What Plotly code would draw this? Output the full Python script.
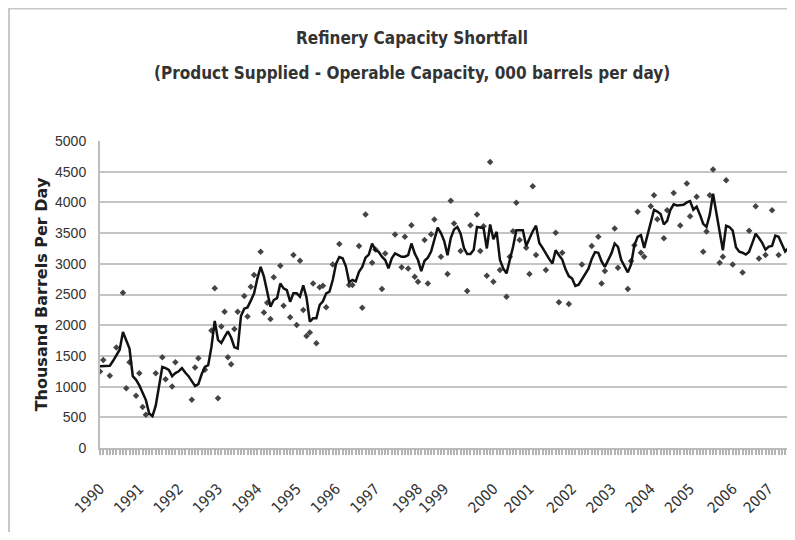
import plotly.graph_objects as go

# monthly index, 0 = Jan 1990
line_vals = [
    1330, 1330, 1330, 1340, 1420, 1500, 1600, 1890, 1740, 1620,
    1170, 1110, 1020, 910, 780, 560, 520, 690, 1000, 1320,
    1300, 1270, 1170, 1220, 1250, 1300, 1230, 1170, 1090, 1010,
    1040, 1200, 1320, 1350, 1650, 2070, 1760, 1710, 1810, 1900,
    1800, 1640, 1620, 2150, 2270, 2290, 2400, 2520, 2760, 2950,
    2790, 2520, 2300, 2410, 2440, 2680, 2600, 2570, 2383, 2520,
    2520, 2465, 2650, 2450, 2060, 2113, 2113, 2329, 2390, 2519,
    2546, 2736, 3000, 3110, 3090, 2960, 2700, 2736, 2715, 2870,
    2950, 3100, 3150, 3330, 3223, 3196, 3115, 3061, 2925, 3088,
    3169, 3142, 3115, 3115, 3142, 3331, 3169, 3061, 2880, 3050,
    3100, 3200, 3380, 3590, 3500, 3370, 3140, 3420, 3560, 3600,
    3490, 3260, 3160, 3160, 3230, 3600, 3590, 3580, 3250, 3640,
    3400, 3520, 3061, 2925, 2844, 3061, 3277, 3548, 3548, 3548,
    3290, 3420, 3530, 3620, 3340, 3260, 3160, 3080, 3006, 3220,
    3140, 3070, 2910, 2800, 2760, 2640, 2660, 2750, 2840, 2920,
    3080, 3190, 3180, 3040, 2950, 3060, 3169, 3331, 3277, 3061,
    2952, 2860, 2990, 3300, 3440, 3467, 3260, 3480, 3700, 3880,
    3850, 3810, 3640, 3700, 3880, 3970, 3950, 3960, 3960, 4000,
    4020, 3880, 3930, 3800, 3650, 3600, 3800, 4140, 3840, 3550,
    3220, 3620, 3600, 3540, 3270, 3196, 3180, 3150, 3196, 3340,
    3490, 3420, 3340, 3230, 3280, 3290, 3460, 3440, 3330, 3200,
    3260, 3400, 3470,
]
line_months = list(range(len(line_vals)))

# monthly points that stand off the line
dot_months = [
    0, 1, 3, 5, 7, 8, 9, 11, 12, 13, 14, 17, 19, 20, 22, 23, 28, 29, 30, 32,
    34, 35, 36, 37, 38, 39, 40, 41, 42, 44, 45, 46, 47, 49, 50, 51, 52, 53, 55, 56,
    58, 59, 60, 61, 62, 63, 64, 65, 66, 67, 68, 69, 71, 73, 76, 77, 79, 80, 81, 83,
    84, 86, 87, 90, 92, 93, 94, 95, 96, 97, 99, 100, 101, 102, 104, 106, 107, 108, 110, 112,
    113, 115, 116, 117, 118, 119, 120, 122, 124, 125, 126, 127, 128, 130, 131, 132, 133, 136, 139, 140,
    141, 143, 147, 150, 152, 153, 154, 157, 158, 161, 162, 163, 164, 165, 166, 168, 169, 170, 172, 173,
    175, 177, 179, 180, 182, 184, 185, 186, 187, 189, 190, 191, 193, 196, 198, 200, 201, 203, 205, 207,
    211,
]
dot_vals = [
    1246, 1435, 1175, 1636, 2530, 975, 1398, 850, 1219, 666, 542, 1219, 1479, 1121, 1002, 1398, 785, 1311, 1463, 1273,
    1912, 2600, 812, 1977, 2221, 1479, 1365, 1939, 2221, 2476, 2140, 2627, 2817, 3196, 2205, 2367, 2102, 2779, 2969, 2318,
    2129, 3142, 2004, 3050, 2248, 1825, 1880, 2681, 1706, 2617, 2644, 2291, 2990, 3321, 2654, 2654, 3288, 2286, 3803, 3017,
    3234, 2589, 3169, 3478, 2945, 3440, 2925, 3629, 2790, 2709, 3386, 2681, 3483, 3722, 3115, 2833, 4025, 3656, 3207, 2557,
    3629, 3803, 3207, 3613, 2806, 4659, 2709, 2898, 2465, 3115, 3532, 3993, 3386, 3261, 2833, 4263, 3142, 2898, 3505, 2373,
    3180, 2346, 2990, 3288, 3440, 2681, 2882, 3575, 2936, 2589, 3044, 3304, 3846, 3180, 3115, 3938, 4117, 3727, 3418, 3873,
    4155, 3624, 4307, 3776, 4090, 3196, 3527, 4117, 4534, 3017, 3115, 4361, 2990, 2860, 3537, 3938, 3088, 3142, 3873, 3142,
    3754,
]

year_pos = [0, 12, 24, 36, 48, 60, 72, 84, 97, 105, 120, 131, 144, 156, 168, 180, 193, 204]
year_labels = ["1990", "1991", "1992", "1993", "1994", "1995", "1996", "1997", "1998",
               "1999", "2000", "2001", "2002", "2003", "2004", "2005", "2006", "2007"]

narrow = "Liberation Sans Narrow, Arial Narrow, DejaVu Sans Condensed, sans-serif"
x_end = 212

fig = go.Figure()
fig.add_trace(go.Scatter(x=dot_months, y=dot_vals, mode="markers",
                         marker=dict(size=5, color="#444444", symbol="diamond"),
                         showlegend=False))
fig.add_trace(go.Scatter(x=line_months, y=line_vals, mode="lines",
                         line=dict(color="#111111", width=2.5),
                         showlegend=False))
# invisible trace on second x axis, only to carry the monthly tick marks
fig.add_trace(go.Scatter(x=[0], y=[0], xaxis="x2", mode="markers",
                         marker=dict(opacity=0), hoverinfo="skip", showlegend=False))

fig.update_layout(
    width=787, height=524,
    margin=dict(l=92, r=0, t=133, b=84),
    paper_bgcolor="white", plot_bgcolor="white",
    font=dict(family="Liberation Sans, Arial, sans-serif", color="#333333"),
    xaxis=dict(range=[0, x_end], showgrid=False, zeroline=False, automargin=False,
               showline=True, linecolor="#bdbdbd", linewidth=2,
               tickmode="array", tickvals=year_pos, ticktext=year_labels,
               tickangle=-45, tickfont=dict(family=narrow, size=15, color="#333333"),
               ticks="", ticklabelstandoff=24),
    xaxis2=dict(range=[0, x_end], overlaying="x", side="bottom", anchor="y",
                showgrid=False, zeroline=False, showline=False, automargin=False,
                tickmode="linear", tick0=0, dtick=1, ticks="outside", ticklen=6,
                tickwidth=1.5, tickcolor="#b4b4b4", showticklabels=False),
    yaxis=dict(range=[0, 5000], dtick=500, showgrid=True, gridcolor="#c4c4c4", gridwidth=2,
               zeroline=False, showline=True, linecolor="#bdbdbd", linewidth=2,
               automargin=False, ticks="", tickfont=dict(size=14, color="#333333"),
               ticklabelstandoff=9,
               title=dict(text="Thousand Barrels Per Day", standoff=3,
                          font=dict(family="DejaVu Sans, sans-serif", size=16,
                                    color="#222222", weight="bold"))),
)

fig.add_annotation(text="<b>Refinery Capacity Shortfall</b>", xref="paper", yref="paper",
                   x=0.449, y=1.3355, showarrow=False, xanchor="center", yanchor="middle",
                   font=dict(family=narrow, size=17, color="#333333"))
fig.add_annotation(text="<b>(Product Supplied - Operable Capacity, 000 barrels per day)</b>",
                   xref="paper", yref="paper", x=0.449, y=1.2215, showarrow=False,
                   xanchor="center", yanchor="middle",
                   font=dict(family=narrow, size=17, color="#333333"))

# chart-area border
fig.add_shape(type="rect", xref="paper", yref="paper", x0=-0.1309, x1=1.2, y0=-0.35, y1=1.4316,
              line=dict(color="#c8c8c8", width=2), layer="below")

fig.write_html("out.html")
